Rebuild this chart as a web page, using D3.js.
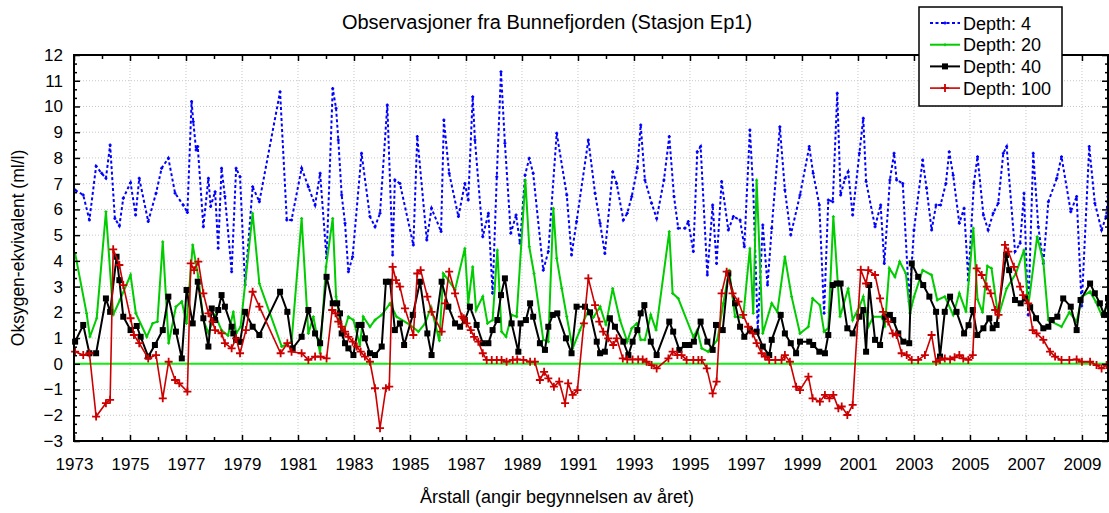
<!DOCTYPE html>
<html lang="no">
<head>
<meta charset="utf-8">
<title>Bunnefjorden Ep1</title>
<style>
  body { margin: 0; background: #fff; }
  svg { font-family: "Liberation Sans", Arial, sans-serif; }
  .grid line { stroke: #c8c8c8; stroke-width: 1; stroke-dasharray: 1,2; }
</style>
</head>
<body>
<svg id="chart" width="1109" height="513"></svg>
<script src="https://d3js.org/d3.v7.min.js"></script>
<script>
"use strict";

// [year, ml/l]
var depth4 = [[1973.04,6.75],[1973.33,6.56],[1973.55,5.59],[1973.79,7.68],[1973.99,7.40],[1974.14,7.21],[1974.29,8.50],[1974.46,5.65],[1974.62,5.36],[1974.76,6.43],[1975.02,7.04],[1975.20,5.78],[1975.33,7.21],[1975.65,5.53],[1975.93,6.63],[1976.13,7.60],[1976.37,7.99],[1976.61,6.63],[1976.90,6.17],[1977.05,5.88],[1977.20,10.19],[1977.26,9.41],[1977.36,8.31],[1977.42,8.44],[1977.62,5.33],[1977.80,7.21],[1977.88,6.11],[1978.04,6.69],[1978.15,4.49],[1978.27,7.60],[1978.39,6.50],[1978.63,3.58],[1978.79,7.60],[1978.93,7.27],[1979.11,3.06],[1979.38,6.88],[1979.62,6.30],[1980.36,10.57],[1980.60,5.59],[1980.77,5.59],[1981.13,7.60],[1981.37,6.88],[1981.61,6.17],[1981.79,7.40],[1982.02,4.10],[1982.24,10.70],[1982.36,9.93],[1982.44,8.7],[1982.56,6.56],[1982.68,5.46],[1982.80,3.58],[1982.95,4.16],[1983.27,8.18],[1983.57,5.72],[1983.75,5.33],[1983.93,5.85],[1984.19,10.06],[1984.38,4.23],[1984.46,7.14],[1984.64,7.01],[1985.12,4.62],[1985.26,8.83],[1985.60,4.81],[1985.77,6.04],[1986.11,5.14],[1986.21,9.47],[1986.40,7.40],[1986.73,5.72],[1986.96,7.01],[1987.08,6.37],[1987.24,10.38],[1987.32,8.70],[1987.60,4.94],[1987.80,5.85],[1987.95,2.74],[1988.10,7.27],[1988.25,11.35],[1988.39,8.57],[1988.60,5.07],[1988.79,5.78],[1988.93,4.68],[1989.11,7.33],[1989.26,7.99],[1989.40,7.40],[1989.76,3.64],[1989.94,4.36],[1990.24,8.96],[1990.60,6.56],[1990.77,4.23],[1990.95,5.53],[1991.37,8.70],[1991.61,6.63],[1991.79,5.46],[1991.96,4.29],[1992.24,7.46],[1992.38,7.01],[1992.62,5.59],[1992.76,5.85],[1992.92,6.50],[1993.12,7.60],[1993.24,9.28],[1993.39,7.14],[1993.63,6.24],[1993.81,5.65],[1994.07,7.14],[1994.26,8.83],[1994.43,6.50],[1994.58,5.27],[1994.82,5.27],[1994.94,5.53],[1995.12,4.36],[1995.26,8.24],[1995.38,8.44],[1995.62,3.45],[1995.81,6.17],[1995.95,3.90],[1996.13,7.08],[1996.37,5.20],[1996.55,5.72],[1996.79,5.59],[1996.94,4.55],[1997.14,9.09],[1997.26,6.75],[1997.42,1.31],[1997.60,5.39],[1997.77,3.06],[1997.92,5.27],[1998.21,9.21],[1998.39,6.75],[1998.60,5.01],[1998.93,6.56],[1999.26,8.44],[1999.40,7.40],[1999.62,6.17],[1999.79,1.96],[1999.94,6.37],[2000.10,6.30],[2000.26,10.51],[2000.38,6.56],[2000.54,7.21],[2000.65,7.46],[2000.81,5.78],[2001.05,8.18],[2001.19,9.54],[2001.29,7.08],[2001.61,5.33],[2001.81,6.17],[2001.94,3.90],[2002.14,7.14],[2002.29,8.18],[2002.38,7.14],[2002.60,7.01],[2002.83,2.42],[2003.00,5.20],[2003.31,7.92],[2003.45,6.82],[2003.63,5.20],[2003.79,6.17],[2003.95,6.17],[2004.14,7.01],[2004.26,8.24],[2004.40,7.33],[2004.62,5.46],[2004.79,6.04],[2004.94,3.25],[2005.14,7.01],[2005.27,8.05],[2005.48,5.78],[2005.65,5.20],[2005.83,5.85],[2006.01,6.24],[2006.19,8.18],[2006.31,8.44],[2006.61,4.36],[2006.79,4.68],[2006.93,6.63],[2007.08,1.90],[2007.26,8.18],[2007.44,5.33],[2007.62,3.90],[2007.80,6.30],[2008.10,7.21],[2008.27,8.05],[2008.60,5.91],[2008.81,6.50],[2008.99,2.25],[2009.26,8.44],[2009.46,6.24],[2009.70,5.20],[2009.86,5.72],[2009.93,6.5]];

var depth20 = [[1973.04,4.29],[1973.45,1.96],[1973.57,1.05],[1973.81,1.77],[1974.14,5.91],[1974.40,1.90],[1974.64,2.48],[1975.02,3.45],[1975.21,1.96],[1975.60,1.05],[1975.81,1.57],[1975.98,1.64],[1976.17,4.74],[1976.38,0.80],[1976.64,2.22],[1976.85,2.42],[1977.02,1.57],[1977.24,4.62],[1977.44,3.38],[1977.62,1.70],[1977.80,1.2],[1978.04,1.9],[1978.27,1.3],[1978.50,1.1],[1978.69,2.02],[1978.79,1.18],[1978.95,1.44],[1979.38,5.85],[1979.62,3.12],[1980.42,0.67],[1980.77,0.86],[1981.13,5.65],[1981.37,1.18],[1981.55,1.83],[1981.79,0.41],[1982.00,3.77],[1982.24,5.65],[1982.36,2.61],[1982.60,1.12],[1982.80,1.83],[1982.98,1.70],[1983.21,0.73],[1983.33,1.83],[1983.57,1.44],[1983.75,1.70],[1983.99,1.90],[1984.29,2.35],[1984.52,1.83],[1985.00,1.51],[1985.30,1.25],[1985.54,1.57],[1985.75,2.2],[1986.05,0.9],[1986.19,3.51],[1986.37,3.25],[1986.61,2.87],[1986.96,4.49],[1987.08,2.35],[1987.24,3.77],[1987.36,2.09],[1987.60,2.61],[1987.77,1.57],[1987.95,1.70],[1988.12,4.42],[1988.27,1.25],[1988.43,1.05],[1988.63,1.90],[1988.81,1.83],[1989.12,7.14],[1989.26,4.55],[1989.43,3.51],[1989.76,0.93],[1989.94,0.86],[1990.12,6.04],[1990.24,4.10],[1990.42,2.93],[1990.60,1.83],[1990.81,0.60],[1991.07,1.31],[1991.37,2.09],[1991.55,1.8],[1991.79,2.22],[1992.00,1.51],[1992.24,2.93],[1992.50,1.7],[1992.76,0.86],[1992.92,1.38],[1993.10,1.57],[1993.24,0.93],[1993.39,0.93],[1993.60,1.90],[1993.79,1.31],[1994.26,5.14],[1994.38,2.74],[1994.58,2.54],[1995.12,1.05],[1995.26,1.31],[1995.42,0.60],[1995.65,0.47],[1995.98,0.93],[1996.19,2.35],[1996.40,3.64],[1996.61,1.83],[1996.90,1.8],[1997.14,4.49],[1997.26,1.96],[1997.38,7.14],[1997.60,1.18],[1997.92,2.35],[1998.12,2.02],[1998.39,4.16],[1998.63,2.61],[1998.93,1.18],[1999.23,1.44],[1999.38,2.54],[1999.64,2.28],[1999.79,1.25],[1999.94,1.38],[2000.12,5.72],[2000.36,1.83],[2000.65,2.93],[2000.81,1.70],[2001.05,2.22],[2001.19,2.61],[2001.37,1.44],[2001.55,1.83],[2001.85,1.83],[2001.96,1.44],[2002.12,3.71],[2002.32,3.38],[2002.49,3.97],[2002.71,3.51],[2002.86,1.96],[2003.00,2.6],[2003.31,3.64],[2003.63,3.45],[2003.83,2.48],[2004.10,2.61],[2004.40,1.90],[2004.62,2.74],[2004.86,2.02],[2005.12,5.27],[2005.27,2.5],[2005.45,2.0],[2005.62,3.8],[2005.77,3.71],[2006.01,1.83],[2006.31,2.93],[2006.64,3.51],[2006.93,4.42],[2007.08,2.22],[2007.40,4.94],[2007.62,3.97],[2007.80,1.70],[2008.27,1.44],[2008.55,2.0],[2008.81,1.64],[2009.00,2.61],[2009.29,2.80],[2009.50,2.4],[2009.70,1.90],[2009.93,2.3]];

var depth40 = [[1973.04,0.86],[1973.33,1.51],[1973.55,0.41],[1973.79,0.41],[1974.14,2.54],[1974.29,2.02],[1974.52,4.16],[1974.62,3.25],[1974.76,1.83],[1975.02,1.31],[1975.24,1.47],[1975.38,1.05],[1975.65,0.28],[1975.89,0.73],[1976.17,1.31],[1976.37,2.61],[1976.64,1.25],[1976.85,0.21],[1977.02,2.87],[1977.24,1.57],[1977.42,3.19],[1977.62,1.77],[1977.80,0.67],[1977.92,2.15],[1978.04,1.7],[1978.15,2.09],[1978.27,2.67],[1978.39,2.22],[1978.63,1.44],[1978.69,1.18],[1978.79,0.93],[1978.93,0.85],[1979.11,2.02],[1979.38,1.44],[1979.62,1.12],[1980.36,2.80],[1980.62,2.02],[1980.81,0.60],[1981.13,1.05],[1981.37,2.09],[1981.61,1.18],[1981.79,0.80],[1982.02,3.38],[1982.24,2.35],[1982.40,2.35],[1982.50,1.96],[1982.56,1.18],[1982.68,0.80],[1982.80,0.60],[1982.98,0.34],[1983.16,1.51],[1983.27,1.51],[1983.39,0.99],[1983.57,0.41],[1983.75,0.34],[1983.99,0.67],[1984.14,3.19],[1984.29,3.19],[1984.46,1.31],[1984.64,1.57],[1984.79,0.73],[1985.10,1.90],[1985.36,3.19],[1985.62,1.18],[1985.77,0.34],[1986.13,3.19],[1986.37,2.22],[1986.61,1.57],[1986.79,1.44],[1986.96,1.70],[1987.14,2.22],[1987.38,1.51],[1987.60,0.80],[1987.80,0.80],[1987.95,1.31],[1988.12,1.70],[1988.25,2.67],[1988.39,3.32],[1988.63,1.57],[1988.87,0.47],[1988.95,1.57],[1989.14,1.70],[1989.29,2.35],[1989.40,1.83],[1989.64,0.80],[1989.82,0.54],[1989.94,1.44],[1990.10,1.90],[1990.26,1.96],[1990.57,0.99],[1990.77,0.41],[1990.95,2.22],[1991.25,2.22],[1991.43,2.0],[1991.67,0.86],[1991.79,0.41],[1991.96,0.47],[1992.14,1.77],[1992.32,1.44],[1992.62,0.86],[1992.80,0.34],[1992.95,0.86],[1993.12,1.31],[1993.24,1.96],[1993.37,2.28],[1993.60,0.86],[1993.81,0.34],[1994.26,1.64],[1994.40,1.25],[1994.62,0.54],[1994.82,0.73],[1994.98,0.73],[1995.14,0.86],[1995.38,1.64],[1995.62,0.86],[1995.81,0.54],[1995.93,1.51],[1996.17,1.31],[1996.37,3.51],[1996.61,2.35],[1996.79,1.44],[1996.94,1.05],[1997.14,1.31],[1997.38,1.25],[1997.60,0.67],[1997.83,0.34],[1997.92,0.93],[1998.24,1.90],[1998.39,1.18],[1998.60,0.80],[1998.79,0.41],[1998.93,0.86],[1999.26,0.86],[1999.40,0.73],[1999.62,0.47],[1999.82,0.41],[1999.94,1.12],[2000.10,3.06],[2000.24,3.12],[2000.38,3.12],[2000.62,1.38],[2000.81,1.18],[2001.05,1.83],[2001.19,2.09],[2001.29,0.47],[2001.40,3.06],[2001.61,0.93],[2001.79,0.73],[2001.96,1.83],[2002.14,1.90],[2002.26,1.70],[2002.44,1.18],[2002.62,0.86],[2002.83,0.80],[2002.92,3.90],[2003.15,3.38],[2003.33,3.06],[2003.55,2.61],[2003.79,2.02],[2003.93,0.28],[2004.10,2.02],[2004.29,2.61],[2004.52,2.02],[2004.79,1.18],[2004.95,1.5],[2005.10,2.09],[2005.26,1.12],[2005.48,1.38],[2005.69,1.77],[2005.81,1.38],[2005.95,1.51],[2006.29,4.23],[2006.40,3.64],[2006.61,2.48],[2006.81,2.35],[2006.96,2.54],[2007.15,2.2],[2007.36,1.77],[2007.62,1.38],[2007.80,1.44],[2007.92,1.70],[2008.12,1.83],[2008.33,2.54],[2008.60,2.22],[2008.81,1.31],[2008.95,2.48],[2009.29,3.12],[2009.46,2.74],[2009.64,2.35],[2009.79,1.90],[2009.93,2.54]];

var depth100 = [[1973.04,0.47],[1973.33,0.34],[1973.55,0.41],[1973.79,-2.05],[1974.14,-1.53],[1974.29,-1.40],[1974.40,4.45],[1974.62,3.84],[1974.76,3.06],[1975.02,1.77],[1975.14,1.12],[1975.33,0.80],[1975.65,0.21],[1975.93,0.34],[1976.17,-1.34],[1976.38,0.08],[1976.61,-0.63],[1976.76,-0.76],[1977.05,-1.08],[1977.17,3.90],[1977.29,3.64],[1977.44,3.97],[1977.62,2.74],[1977.80,1.96],[1977.95,1.64],[1978.04,1.31],[1978.27,1.18],[1978.39,0.80],[1978.63,0.60],[1978.79,0.99],[1978.93,0.41],[1979.14,1.31],[1979.38,2.80],[1979.62,2.22],[1980.38,0.41],[1980.62,0.80],[1980.77,0.47],[1981.13,0.41],[1981.37,0.15],[1981.61,0.28],[1981.81,0.28],[1982.02,0.21],[1982.22,2.09],[1982.34,1.96],[1982.44,1.64],[1982.56,1.44],[1982.68,1.25],[1982.80,1.05],[1982.95,0.86],[1983.10,0.67],[1983.24,0.47],[1983.39,0.28],[1983.57,0.08],[1983.75,-0.95],[1983.93,-2.5],[1984.14,-0.95],[1984.26,-0.89],[1984.38,3.77],[1984.50,3.25],[1984.64,3.0],[1984.82,2.15],[1985.12,1.12],[1985.26,3.51],[1985.38,3.64],[1985.62,2.61],[1985.77,2.02],[1986.13,1.25],[1986.25,2.35],[1986.40,3.58],[1986.61,2.74],[1986.85,1.83],[1986.92,1.77],[1987.02,1.57],[1987.17,1.31],[1987.29,1.05],[1987.44,0.86],[1987.60,0.41],[1987.74,0.15],[1987.92,0.15],[1988.10,0.15],[1988.27,0.15],[1988.45,0.08],[1988.67,0.15],[1988.83,0.17],[1989.05,0.15],[1989.29,0.08],[1989.46,0.08],[1989.64,-0.63],[1989.79,-0.31],[1989.94,-0.57],[1990.14,-0.89],[1990.33,-0.69],[1990.54,-1.53],[1990.65,-0.76],[1990.81,-1.21],[1990.98,-1.02],[1991.21,1.57],[1991.37,3.32],[1991.61,2.28],[1991.76,1.64],[1991.90,1.25],[1992.08,0.99],[1992.26,0.73],[1992.38,0.99],[1992.60,0.21],[1992.76,0.17],[1992.95,0.17],[1993.15,0.17],[1993.31,0.17],[1993.45,0.08],[1993.63,-0.05],[1993.81,-0.18],[1994.23,0.21],[1994.38,0.47],[1994.55,0.34],[1994.70,0.34],[1994.88,0.15],[1995.12,0.15],[1995.30,0.15],[1995.42,0.15],[1995.60,-0.18],[1995.81,-1.15],[1995.95,-0.69],[1996.13,2.74],[1996.31,3.58],[1996.52,2.74],[1996.73,2.42],[1996.90,1.90],[1997.08,1.44],[1997.24,1.18],[1997.38,0.80],[1997.56,0.41],[1997.68,0.28],[1997.83,0.15],[1998.05,0.15],[1998.27,0.15],[1998.39,0.34],[1998.57,0.08],[1998.79,-0.89],[1998.93,-1.02],[1999.23,-0.50],[1999.38,-1.34],[1999.64,-1.47],[1999.82,-1.21],[1999.98,-1.34],[2000.12,-1.21],[2000.30,-1.73],[2000.42,-1.66],[2000.62,-1.99],[2000.81,-1.60],[2001.10,3.65],[2001.29,3.12],[2001.37,3.64],[2001.61,3.45],[2001.79,2.54],[2001.90,2.02],[2002.08,1.64],[2002.24,1.18],[2002.38,1.12],[2002.56,0.41],[2002.74,0.34],[2002.92,0.15],[2003.15,0.15],[2003.39,0.34],[2003.63,1.12],[2003.79,0.08],[2003.93,0.15],[2004.10,0.21],[2004.29,0.17],[2004.45,0.25],[2004.62,0.34],[2004.76,0.21],[2004.94,0.15],[2005.10,0.34],[2005.24,3.71],[2005.42,3.45],[2005.60,3.0],[2005.74,2.74],[2005.90,2.09],[2006.02,1.90],[2006.25,4.62],[2006.37,4.36],[2006.57,3.77],[2006.79,3.0],[2006.90,2.67],[2007.08,2.35],[2007.24,1.31],[2007.38,1.18],[2007.62,0.93],[2007.86,0.47],[2008.04,0.28],[2008.27,0.15],[2008.55,0.15],[2008.81,0.17],[2009.00,0.08],[2009.29,0.08],[2009.52,-0.05],[2009.70,-0.18],[2009.88,-0.05]];

var yearLabels = d3.range(1973, 2010, 2);
var valueTicks = d3.range(-3, 13, 1);
var seriesNames = ["Depth: 4", "Depth: 20", "Depth: 40", "Depth: 100"];

var svg = d3.select("#chart");
var x = d3.scaleLinear().domain([1973, 2009.93]).range([74, 1108]);
var y = d3.scaleLinear().domain([-3, 12]).range([441, 55]);

// grid
var grid = svg.append("g").attr("class", "grid");
grid.selectAll(".gx").data(yearLabels.slice(1)).enter().append("line")
	.attr("x1", function(d){ return x(d); }).attr("x2", function(d){ return x(d); })
	.attr("y1", y(-3)).attr("y2", y(12));
grid.selectAll(".gy").data(valueTicks.slice(1, -1)).enter().append("line")
	.attr("x1", x.range()[0]).attr("x2", x.range()[1])
	.attr("y1", function(d){ return y(d); }).attr("y2", function(d){ return y(d); });

// zero line
svg.append("line")
	.attr("x1", x.range()[0]).attr("x2", x.range()[1])
	.attr("y1", y(0)).attr("y2", y(0))
	.attr("stroke", "#11ee11").attr("stroke-width", 2);

var line = d3.line().x(function(d){ return x(d[0]); }).y(function(d){ return y(d[1]); });

function drawSeries(data, color, width, dash){
	svg.append("path").datum(data)
		.attr("d", line)
		.attr("fill", "none")
		.attr("stroke", color)
		.attr("stroke-width", width)
		.attr("stroke-dasharray", dash || null);
}

function plus(g, cx, cy, r, color, w){
	g.append("path")
		.attr("d", "M" + (cx - r) + "," + cy + "H" + (cx + r) + "M" + cx + "," + (cy - r) + "V" + (cy + r))
		.attr("stroke", color).attr("stroke-width", w);
}

// depth 4
drawSeries(depth4, "#0000ff", 2, "3,2.5");
var g4 = svg.append("g");
depth4.forEach(function(d){ plus(g4, x(d[0]), y(d[1]), 1.5, "#0000ff", 1.5); });

// depth 20
drawSeries(depth20, "#00cc00", 2);
var g20 = svg.append("g");
depth20.forEach(function(d){ plus(g20, x(d[0]), y(d[1]), 1.5, "#00cc00", 1.2); });

// depth 40
drawSeries(depth40, "#000000", 2);
svg.append("g").selectAll("rect").data(depth40).enter().append("rect")
	.attr("x", function(d){ return x(d[0]) - 3; })
	.attr("y", function(d){ return y(d[1]) - 3; })
	.attr("width", 6).attr("height", 6).attr("fill", "#000");

// depth 100
drawSeries(depth100, "#cc0000", 1.6);
var g100 = svg.append("g");
depth100.forEach(function(d){ plus(g100, x(d[0]), y(d[1]), 4, "#cc0000", 1.8); });

// frame + ticks
function tickAxis(axis, tr){
	var g = svg.append("g").attr("transform", tr).call(axis);
	g.select(".domain").remove();
	g.selectAll(".tick line").attr("stroke", "#000").attr("stroke-width", 1.5);
	return g;
}
var bottomMajor = tickAxis(d3.axisBottom(x).tickValues(yearLabels).tickSize(-6).tickPadding(17).tickFormat(d3.format("d")), "translate(0," + y(-3) + ")");
bottomMajor.selectAll("text").attr("font-size", 17).attr("fill", "#000").attr("font-family", "Liberation Sans, Arial, sans-serif");
tickAxis(d3.axisBottom(x).tickValues(d3.range(1974, 2010, 2)).tickSize(-4).tickFormat(""), "translate(0," + y(-3) + ")");
tickAxis(d3.axisTop(x).tickValues(yearLabels).tickSize(-6).tickFormat(""), "translate(0," + y(12) + ")");
tickAxis(d3.axisTop(x).tickValues(d3.range(1974, 2010, 2)).tickSize(-4).tickFormat(""), "translate(0," + y(12) + ")");

var leftMajor = tickAxis(d3.axisLeft(y).tickValues(valueTicks).tickSize(-6).tickPadding(11).tickFormat(d3.format("d")), "translate(" + x.range()[0] + ",0)");
leftMajor.selectAll("text").attr("font-size", 17).attr("fill", "#000").attr("font-family", "Liberation Sans, Arial, sans-serif");
var minorY = d3.range(-3, 12, 1/3).filter(function(v){ return Math.abs(v - Math.round(v)) > 0.01; });
tickAxis(d3.axisLeft(y).tickValues(minorY).tickSize(-3).tickFormat(""), "translate(" + x.range()[0] + ",0)");
tickAxis(d3.axisRight(y).tickValues(valueTicks).tickSize(-6).tickFormat(""), "translate(" + x.range()[1] + ",0)");
tickAxis(d3.axisRight(y).tickValues(minorY).tickSize(-3).tickFormat(""), "translate(" + x.range()[1] + ",0)");

svg.append("rect")
	.attr("x", x.range()[0]).attr("y", y(12))
	.attr("width", x.range()[1] - x.range()[0]).attr("height", y(-3) - y(12))
	.attr("fill", "none").attr("stroke", "#000").attr("stroke-width", 2);

// titles
svg.append("text").attr("x", 547).attr("y", 29).attr("text-anchor", "middle")
	.attr("font-size", 20).text("Observasjoner fra Bunnefjorden (Stasjon Ep1)");
svg.append("text").attr("x", 557).attr("y", 503).attr("text-anchor", "middle")
	.attr("font-size", 18).text("Årstall (angir begynnelsen av året)");
svg.append("text").attr("transform", "translate(24,248) rotate(-90)").attr("text-anchor", "middle")
	.attr("font-size", 17.5).text("Oksygen-ekvivalent (ml/l)");

// legend
var lg = svg.append("g");
lg.append("rect").attr("x", 919).attr("y", 7).attr("width", 143).attr("height", 99)
	.attr("fill", "#fff").attr("stroke", "#000").attr("stroke-width", 1.5);
var legendRows = [
	{name: seriesNames[0], color: "#0000ff", dash: "3,2.5", w: 2},
	{name: seriesNames[1], color: "#00cc00", w: 2},
	{name: seriesNames[2], color: "#000000", w: 2},
	{name: seriesNames[3], color: "#cc0000", w: 1.6}
];
legendRows.forEach(function(r, i){
	var cy = 23 + i * 21.7;
	lg.append("line").attr("x1", 930).attr("x2", 960).attr("y1", cy).attr("y2", cy)
		.attr("stroke", r.color).attr("stroke-width", r.w).attr("stroke-dasharray", r.dash || null);
	if (i === 0) plus(lg, 945, cy, 1.5, r.color, 1.5);
	if (i === 1) plus(lg, 945, cy, 1.5, r.color, 1.2);
	if (i === 2) lg.append("rect").attr("x", 942).attr("y", cy - 3).attr("width", 6).attr("height", 6).attr("fill", "#000");
	if (i === 3) plus(lg, 945, cy, 4, r.color, 1.8);
	lg.append("text").attr("x", 963).attr("y", cy + 6.5).attr("font-size", 18).text(r.name);
});
</script>
</body>
</html>
